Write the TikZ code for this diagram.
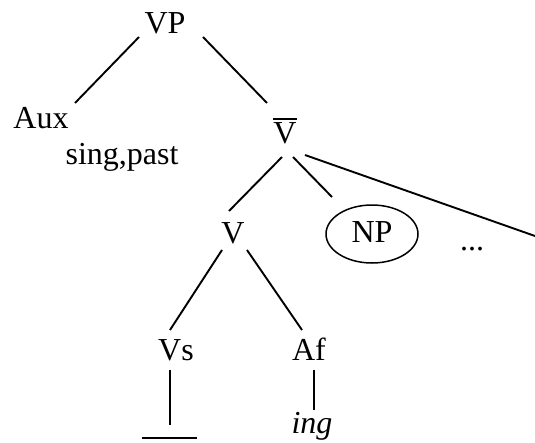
\documentclass[tikz,border=0pt]{standalone}
\usepackage{fontspec}
\setmainfont{Liberation Serif}
\usetikzlibrary{shapes.geometric}
\begin{document}
\begin{tikzpicture}[x=1pt,y=-1pt,
  lbl/.style={anchor=base,inner sep=0pt,font=\fontsize{32}{36}\selectfont},
  edge/.style={line width=1.9pt}]
\useasboundingbox (0,0) rectangle (535,442);
\node[lbl] (VP) at (165,33) {VP};
\node[lbl] (Aux) at (41,128) {Aux};
\node[lbl] (sp) at (122,164) {sing,past};
\node[lbl] (Vbar) at (285,143) {\vbox{\hrule height 1.7pt\kern 2pt\hbox{V}}};
\node[lbl] (V) at (233,243) {V};
\node[draw,ellipse,line width=1.5pt,minimum width=92pt,minimum height=58pt,inner sep=0pt,
      font=\fontsize{32}{36}\selectfont] (NP) at (372,234) {\raisebox{4pt}{NP}};
\node[lbl] (dots) at (472,250) {...};
\node[lbl] (Vs) at (176,360) {Vs};
\node[lbl] (Af) at (309,360) {Af};
\node[lbl] (ing) at (312,433) {\itshape ing};
\coordinate (offR) at (537,236.7);
\coordinate (gapTop) at (170,425);
\coordinate (gapL) at (142,438);
\coordinate (gapR) at (197,438);
\draw[edge] ([shift={(-26,4)}]VP.base) -- ([shift={(34,-25)}]Aux.base);
\draw[edge] ([shift={(38,4)}]VP.base) -- ([shift={(-18,-40)}]Vbar.base);
\draw[edge] ([shift={(-3,14)}]Vbar.base) -- ([shift={(-4,-32)}]V.base);
\draw[edge] ([shift={(8,14)}]Vbar.base) -- ([shift={(-40,-37)}]NP.center);
\draw[edge] ([shift={(20,12)}]Vbar.base) -- (offR);
\draw[edge] ([shift={(-11,7)}]V.base) -- ([shift={(-6,-30)}]Vs.base);
\draw[edge] ([shift={(14,7)}]V.base) -- ([shift={(-7,-30)}]Af.base);
\draw[edge] ([shift={(-6,10)}]Vs.base) -- (gapTop);
\draw[edge] (gapL) -- (gapR);
\draw[edge] ([shift={(5,10)}]Af.base) -- ([shift={(2,-23)}]ing.base);
\end{tikzpicture}
\end{document}
